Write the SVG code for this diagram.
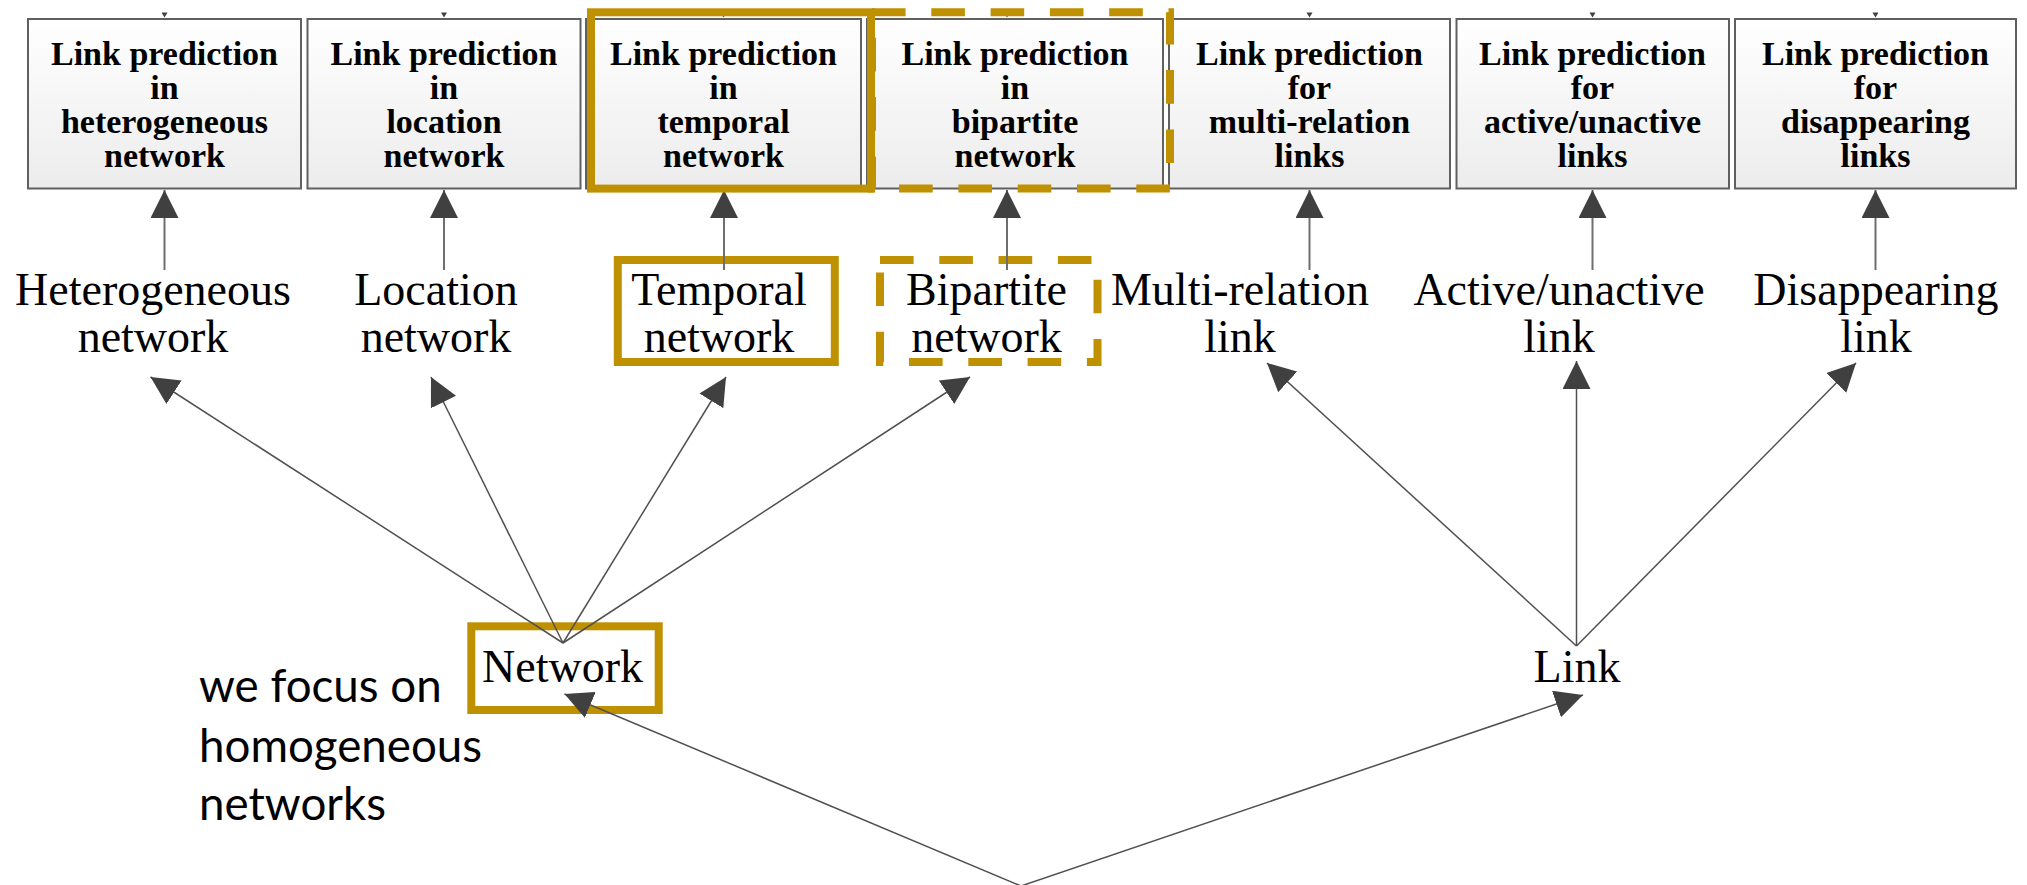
<svg xmlns="http://www.w3.org/2000/svg" width="2027" height="885" viewBox="0 0 2027 885">
  <style>
    .box { fill: url(#boxFill); stroke: #606060; stroke-width: 2; }
    .boxText { font-family: "Liberation Serif", "Times New Roman", serif; font-weight: bold; font-size: 34px; fill: #000; text-anchor: middle; }
    .label { font-family: "Liberation Serif", "Times New Roman", serif; font-size: 46px; fill: #000; text-anchor: middle; }
    .note { font-family: Lato, "Open Sans", sans-serif; font-size: 45.7px; fill: #000; }
    .edge { fill: none; stroke: #505050; stroke-width: 1.5; marker-end: url(#arrow); }
    .vedge { fill: none; stroke: #6e6e6e; stroke-width: 2; marker-end: url(#arrow); }
    .stub { fill: #404040; }
    .gold { fill: none; stroke: #BF9000; stroke-width: 8; }
    .goldDash { fill: none; stroke: #BF9000; stroke-width: 8; stroke-dasharray: 33.6 25.7; }
  </style>
  <defs>
    <linearGradient id="boxFill" x1="0" y1="0" x2="0" y2="1">
      <stop offset="0" stop-color="#ffffff"/>
      <stop offset="1" stop-color="#ececec"/>
    </linearGradient>
    <marker id="arrow" markerUnits="userSpaceOnUse" markerWidth="28" markerHeight="28" refX="28" refY="14" orient="auto" viewBox="0 0 28 28">
      <path d="M0,0 L28,14 L0,28 Z" fill="#404040"/>
    </marker>
  </defs>

  <rect width="2027" height="885" fill="#ffffff"/>

  <!-- top row: prediction tasks -->
  <g id="task-heterogeneous">
    <rect class="box" x="28" y="19" width="273" height="169.5"/>
    <text class="boxText" x="164.5" y="65">Link prediction</text>
    <text class="boxText" x="164.5" y="99">in</text>
    <text class="boxText" x="164.5" y="133">heterogeneous</text>
    <text class="boxText" x="164.5" y="167">network</text>
  </g>
  <g id="task-location">
    <rect class="box" x="307.5" y="19" width="273" height="169.5"/>
    <text class="boxText" x="444" y="65">Link prediction</text>
    <text class="boxText" x="444" y="99">in</text>
    <text class="boxText" x="444" y="133">location</text>
    <text class="boxText" x="444" y="167">network</text>
  </g>
  <g id="task-temporal">
    <rect class="box" x="586" y="19" width="275" height="169.5"/>
    <text class="boxText" x="723.5" y="65">Link prediction</text>
    <text class="boxText" x="723.5" y="99">in</text>
    <text class="boxText" x="723.5" y="133">temporal</text>
    <text class="boxText" x="723.5" y="167">network</text>
  </g>
  <g id="task-bipartite">
    <rect class="box" x="867" y="19" width="296" height="169.5"/>
    <text class="boxText" x="1015" y="65">Link prediction</text>
    <text class="boxText" x="1015" y="99">in</text>
    <text class="boxText" x="1015" y="133">bipartite</text>
    <text class="boxText" x="1015" y="167">network</text>
  </g>
  <g id="task-multi-relation">
    <rect class="box" x="1169" y="19" width="281" height="169.5"/>
    <text class="boxText" x="1309.5" y="65">Link prediction</text>
    <text class="boxText" x="1309.5" y="99">for</text>
    <text class="boxText" x="1309.5" y="133">multi-relation</text>
    <text class="boxText" x="1309.5" y="167">links</text>
  </g>
  <g id="task-active">
    <rect class="box" x="1456.5" y="19" width="272.5" height="169.5"/>
    <text class="boxText" x="1592.5" y="65">Link prediction</text>
    <text class="boxText" x="1592.5" y="99">for</text>
    <text class="boxText" x="1592.5" y="133">active/unactive</text>
    <text class="boxText" x="1592.5" y="167">links</text>
  </g>
  <g id="task-disappearing">
    <rect class="box" x="1735" y="19" width="281" height="169.5"/>
    <text class="boxText" x="1875.5" y="65">Link prediction</text>
    <text class="boxText" x="1875.5" y="99">for</text>
    <text class="boxText" x="1875.5" y="133">disappearing</text>
    <text class="boxText" x="1875.5" y="167">links</text>
  </g>

  <!-- middle row: network and link types -->
  <g id="type-heterogeneous">
    <text class="label" x="153" y="305">Heterogeneous</text>
    <text class="label" x="153" y="352">network</text>
  </g>
  <g id="type-location">
    <text class="label" x="436" y="305">Location</text>
    <text class="label" x="436" y="352">network</text>
  </g>
  <g id="type-temporal">
    <rect class="gold" x="617.8" y="260" width="217" height="102"/>
    <text class="label" x="719" y="305">Temporal</text>
    <text class="label" x="719" y="352">network</text>
  </g>
  <g id="type-bipartite">
    <rect class="goldDash" x="880" y="260" width="217.5" height="102"/>
    <text class="label" x="986.5" y="305">Bipartite</text>
    <text class="label" x="986.5" y="352">network</text>
  </g>
  <g id="type-multi-relation">
    <text class="label" x="1240" y="305">Multi-relation</text>
    <text class="label" x="1240" y="352">link</text>
  </g>
  <g id="type-active">
    <text class="label" x="1559" y="305">Active/unactive</text>
    <text class="label" x="1559" y="352">link</text>
  </g>
  <g id="type-disappearing">
    <text class="label" x="1876" y="305">Disappearing</text>
    <text class="label" x="1876" y="352">link</text>
  </g>

  <!-- lower row -->
  <g id="network">
    <rect class="gold" x="471.3" y="626.3" width="187.4" height="83.7"/>
    <text class="label" x="562.5" y="682">Network</text>
  </g>
  <g id="link">
    <text class="label" x="1577" y="682">Link</text>
  </g>
  <g id="note">
    <text class="note" x="199" y="701.5">we focus on</text>
    <text class="note" x="199" y="761.5">homogeneous</text>
    <text class="note" x="199" y="820">networks</text>
  </g>

  <!-- connectors -->
  <g id="connectors">
    <!-- arrows entering the task boxes from above -->
    <polygon class="stub" points="161.5,12.5 167.5,12.5 164.5,17.5"/>
    <polygon class="stub" points="441,12.5 447,12.5 444,17.5"/>
    <polygon class="stub" points="720.5,12.5 726.5,12.5 723.5,17.5"/>
    <polygon class="stub" points="1004,12.5 1010,12.5 1007,17.5"/>
    <polygon class="stub" points="1306.5,12.5 1312.5,12.5 1309.5,17.5"/>
    <polygon class="stub" points="1589.5,12.5 1595.5,12.5 1592.5,17.5"/>
    <polygon class="stub" points="1872.5,12.5 1878.5,12.5 1875.5,17.5"/>

    <!-- type to task -->
    <path class="vedge" d="M164.5,270 V190"/>
    <path class="vedge" d="M444,270 V190"/>
    <path class="vedge" d="M724,270 V190"/>
    <path class="vedge" d="M1007,270 V190"/>
    <path class="vedge" d="M1309.5,270 V190"/>
    <path class="vedge" d="M1592.5,270 V190"/>
    <path class="vedge" d="M1875.5,270 V190"/>

    <!-- network to network types -->
    <path class="edge" d="M563,643 L150.5,377"/>
    <path class="edge" d="M563,643 L431,377"/>
    <path class="edge" d="M563,643 L726,377"/>
    <path class="edge" d="M563,643 L970,377"/>

    <!-- link to link types -->
    <path class="edge" d="M1576.5,646 L1267,363"/>
    <path class="edge" d="M1576.5,646 L1576.5,361"/>
    <path class="edge" d="M1576.5,646 L1856,363"/>

    <!-- root to network and link -->
    <path class="edge" d="M1021,886 L564.5,694"/>
    <path class="edge" d="M1021,886 L1583,695"/>
  </g>

  <!-- highlight frames around the selected tasks -->
  <g id="highlights">
    <rect class="gold" x="591" y="12.3" width="280" height="176.3"/>
    <rect class="goldDash" x="872" y="12.3" width="298" height="176.3"/>
  </g>
</svg>
